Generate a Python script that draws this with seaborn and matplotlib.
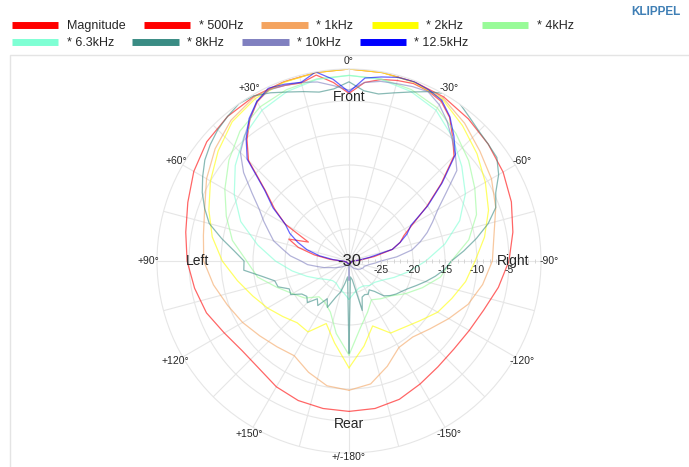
"""Polar directivity plot of a loudspeaker (KLIPPEL style) with seaborn."""

import numpy as np
import matplotlib.pyplot as plt
from matplotlib.lines import Line2D
from matplotlib.patches import Rectangle
import seaborn as sns

# angles in degrees, positive = left side, 0 = front
angles_10 = list(range(-180, 180, 10))
angles_5 = list(range(-180, 180, 5))

# dB values, 10 degree steps from -180 to 170
db_500 = [-6.5, -6.6, -7.0, -7.8, -8.4, -8.6, -8.3, -7.6, -6.3, -5.0, -4.0, -3.0,
          -2.2, -1.6, -1.0, -0.4, -0.2, -0.1, 0.0, -0.1, -0.2, -0.3, -0.5, -1.0,
          -2.0, -3.2, -4.1, -4.7, -5.5, -6.3, -7.5, -8.2, -8.1, -7.3, -6.8, -6.6]
db_1k = [-9.8, -10.5, -12.5, -14.4, -14.5, -13.5, -12.0, -10.2, -8.8, -7.6, -7.0, -5.6,
         -4.3, -3.3, -1.9, -0.6, -0.2, -0.1, 0.0, -0.1, -0.2, -0.4, -1.3, -2.7,
         -4.3, -6.0, -6.9, -7.3, -8.5, -9.8, -10.8, -11.8, -12.5, -12.9, -11.5, -10.2]
db_2k = [-13.3, -16.5, -19.2, -17.0, -16.5, -15.5, -14.0, -12.9, -11.5, -10.3, -8.5, -6.8,
         -5.4, -3.9, -2.4, -0.8, -0.3, -0.1, 0.0, -0.1, -0.3, -0.7, -1.6, -3.3,
         -5.0, -6.7, -8.3, -10.2, -12.3, -14.0, -15.3, -16.5, -17.4, -17.2, -19.6, -17.0]
db_4k = [-15.3, -19.5, -21.5, -23.0, -22.3, -21.5, -19.8, -17.8, -15.5, -14.0, -11.0, -8.8,
         -7.3, -5.6, -4.0, -2.4, -1.5, -1.1, -1.0, -1.1, -1.5, -2.2, -3.5, -5.5,
         -7.6, -9.6, -11.5, -14.0, -15.5, -18.0, -19.8, -21.0, -22.7, -22.5, -21.5, -18.5]
db_6k3 = [-24.0, -25.0, -25.5, -25.5, -25.0, -24.8, -24.0, -22.5, -20.5, -18.0, -14.8, -11.6,
          -9.0, -7.0, -4.8, -2.8, -1.8, -1.2, -1.0, -1.2, -1.8, -2.8, -4.5, -6.8,
          -9.3, -12.0, -15.5, -18.5, -21.0, -23.0, -24.5, -25.5, -26.0, -26.0, -25.5, -25.0]

# dB values, 5 degree steps from -180 to 175
db_8k = [-15.6, -27.5, -27.0, -22.0, -24.0, -24.2, -24.0, -24.5, -23.8, -22.3, -21.6, -21.0,
         -20.5, -19.8, -18.8, -17.6, -16.3, -15.0, -14.0, -12.0, -9.8, -7.5, -5.6, -4.7,
         -3.0, -1.8, -1.6, -1.3, -0.7, 0.1, 0.2, -0.8, -1.9, -2.8, -3.5, -3.3,
         -2.0, -3.0, -3.2, -2.6, -1.9, -1.0, -0.2, 0.0, -0.5, -1.0, -1.7, -2.5,
         -3.6, -4.7, -6.0, -7.4, -9.8, -12.0, -13.6, -13.5, -16.2, -18.0, -18.2, -19.7,
         -19.5, -21.0, -21.4, -20.8, -22.3, -21.5, -23.2, -22.0, -24.0, -25.0, -26.5, -27.5]
db_10k = [-27.0, -29.4, -29.4, -29.3, -29.2, -29.0, -28.8, -28.6, -28.4, -28.2, -28.0, -27.8,
          -27.7, -27.5, -27.5, -27.2, -26.8, -26.0, -25.0, -22.5, -20.0, -18.5, -17.0, -15.6,
          -14.0, -11.5, -8.0, -6.5, -5.0, -3.3, -1.8, -0.8, -1.0, -1.3, -1.5, -2.0,
          -3.3, -2.5, -1.6, -1.1, -0.8, -0.5, -1.2, -3.0, -4.6, -6.0, -8.5, -11.5,
          -13.8, -15.3, -16.7, -17.8, -19.5, -20.8, -22.5, -23.5, -25.0, -26.0, -27.0, -27.5,
          -28.0, -28.3, -28.6, -28.8, -29.0, -29.2, -29.3, -29.4, -29.5, -29.5, -29.5, -29.5]
db_12k5 = [-29.6, -29.6, -29.6, -29.6, -29.6, -29.6, -29.6, -29.6, -29.6, -29.6, -29.6, -29.6,
           -29.6, -29.6, -29.6, -29.6, -29.6, -29.5, -29.3, -28.5, -26.8, -23.0, -21.5, -20.0,
           -18.8, -15.0, -11.0, -6.5, -4.5, -2.5, -1.0, -0.5, -0.2, -0.3, -0.8, -1.3,
           -3.6, -1.5, 0.0, -1.1, -0.6, -0.2, -1.2, -2.8, -5.0, -7.5, -12.8, -15.5,
           -18.5, -19.8, -21.5, -23.2, -25.3, -27.5, -29.0, -29.3, -29.4, -29.5, -29.5, -29.6,
           -29.6, -29.6, -29.6, -29.6, -29.6, -29.6, -29.6, -29.6, -29.6, -29.6, -29.6, -29.6]
db_mag = [-29.6, -29.6, -29.6, -29.6, -29.6, -29.6, -29.6, -29.6, -29.6, -29.6, -29.6, -29.6,
          -29.6, -29.6, -29.6, -29.6, -29.6, -29.5, -29.3, -28.2, -26.0, -23.0, -21.5, -20.5,
          -18.5, -15.2, -11.2, -6.8, -4.8, -2.6, -1.2, -0.7, -0.5, -0.8, -1.2, -2.0,
          -3.8, -2.0, -0.5, -1.2, -0.8, -0.4, -1.3, -3.0, -5.2, -7.8, -13.0, -15.8,
          -18.5, -23.0, -20.0, -21.8, -24.5, -27.0, -28.8, -29.3, -29.4, -29.5, -29.5, -29.6,
          -29.6, -29.6, -29.6, -29.6, -29.6, -29.6, -29.6, -29.6, -29.6, -29.6, -29.6, -29.6]

# series: label, angle grid, values, colour
series = [
    ('Magnitude', angles_5, db_mag, '#ff0000'),
    ('* 500Hz', angles_10, db_500, '#ff0000'),
    ('* 1kHz', angles_10, db_1k, '#f4a460'),
    ('* 2kHz', angles_10, db_2k, '#ffff00'),
    ('* 4kHz', angles_10, db_4k, '#98fb98'),
    ('* 6.3kHz', angles_10, db_6k3, '#7fffd4'),
    ('* 8kHz', angles_5, db_8k, '#3a8c84'),
    ('* 10kHz', angles_5, db_10k, '#8080c0'),
    ('* 12.5kHz', angles_5, db_12k5, '#0000ff'),
]

theta_labels = {0: '0°', 30: '+30°', 60: '+60°', 90: '+90°', 120: '+120°',
                150: '+150°', 180: '+/-180°', -150: '-150°', -120: '-120°',
                -90: '-90°', -60: '-60°', -30: '-30°'}
r_ticks = [-25, -20, -15, -10, -5]
r_minor = list(range(-29, 0))

sns.set_style('white')
plt.rcParams['font.family'] = ['Liberation Sans', 'DejaVu Sans']

fig = plt.figure(figsize=(6.89, 4.67), dpi=100)

# light frame around the plot area
fig.patches.append(Rectangle((10 / 689, -0.1), 1.2, 1 - 55 / 467 + 0.1,
                             transform=fig.transFigure, fill=False,
                             edgecolor='#e4e4e4', lw=1))

ax = fig.add_axes([157 / 689, 14 / 467, 384 / 689, 384 / 467], projection='polar')
ax.set_theta_zero_location('N')
ax.set_theta_direction(1)

for label, ang, vals, col in series:
    th = np.deg2rad(ang + [180])
    rr = vals + [vals[0]]
    sns.lineplot(x=th, y=rr, ax=ax, sort=False, estimator=None,
                 color=col, lw=0.9, alpha=0.6)

ax.set_ylim(-30, 0)
ax.set_xlabel('')
ax.set_ylabel('')
ax.set_thetagrids(list(range(0, 360, 15)), [''] * 24)
ax.set_rgrids(r_ticks, [''] * len(r_ticks))
ax.grid(color='#e6e6e6', lw=0.8)
ax.spines['polar'].set_color('#e6e6e6')

# angle labels just outside the outer ring
for a, txt in theta_labels.items():
    r_lab = 1.3 if abs(a) in (90, 120) else (0.6 if a == 180 else 1.2)
    ax.text(np.deg2rad(a), r_lab, txt, ha='center', va='center',
            fontsize=7.5, clip_on=False)

# small 1 dB ticks along the right horizontal axis
ax.plot(np.full(len(r_minor), -np.pi / 2), r_minor, ls='none', marker='|',
        ms=3, mew=0.6, color='#d0d0d0')

# radial scale labels below the right horizontal axis
for r in r_ticks:
    ax.annotate(str(r), xy=(-np.pi / 2, r), xytext=(0, -3),
                textcoords='offset points', ha='center', va='top', fontsize=7.5)
ax.text(0, -30, '-30', ha='center', va='center', fontsize=12)
ax.text(0, -4.4, 'Front', ha='center', va='center', fontsize=10)
ax.text(np.pi, -4.5, 'Rear', ha='center', va='center', fontsize=10)
ax.text(np.pi / 2, -6.4, 'Left', ha='center', va='center', fontsize=10)
ax.text(-np.pi / 2, -4.4, 'Right', ha='center', va='center', fontsize=10)

# legend in two rows like the original
handles = [Line2D([], [], color=c, lw=5, solid_capstyle='butt') for _, _, _, c in series]
labels = [s[0] for s in series]
leg_kw = dict(frameon=False, fontsize=9, handlelength=3.7, handletextpad=0.7,
              columnspacing=1.45, borderpad=0, borderaxespad=0, loc='center left')
fig.legend(handles[:5], labels[:5], ncol=5,
           bbox_to_anchor=(12 / 689, 1 - 26 / 467), **leg_kw)
fig.legend(handles[5:], labels[5:], ncol=4,
           bbox_to_anchor=(12 / 689, 1 - 43 / 467), **leg_kw)

fig.text(681 / 689, 1 - 12 / 467, 'KLIPPEL', ha='right', va='center',
         fontsize=8.5, fontweight='bold', color='#3f7fb5')

fig.savefig('out.png', dpi=100)
